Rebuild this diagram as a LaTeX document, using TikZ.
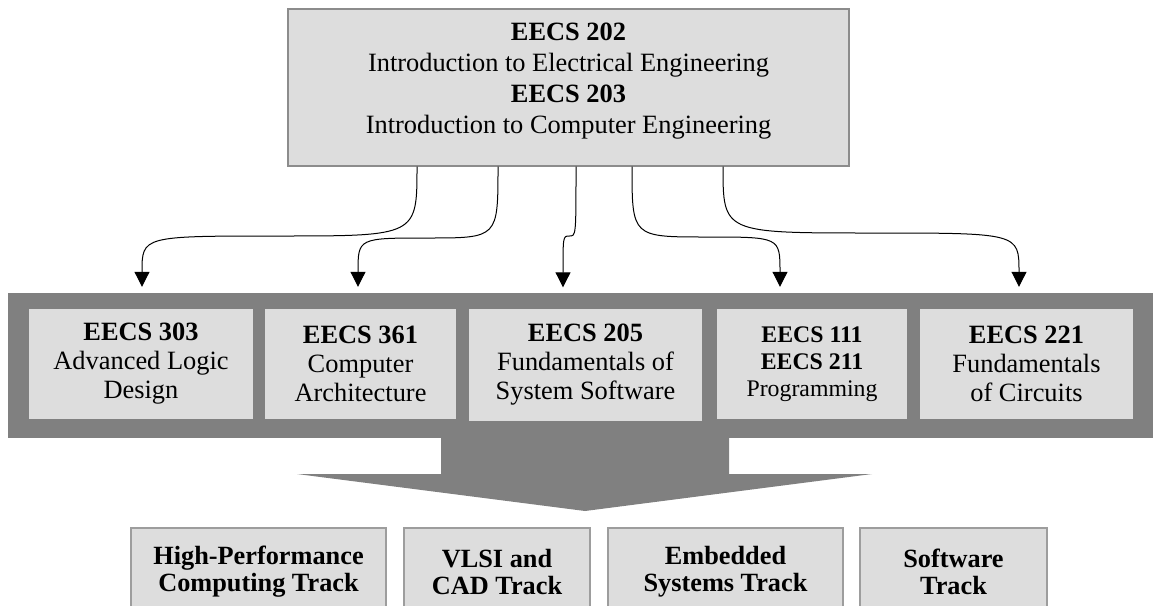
\documentclass[tikz,border=0pt]{standalone}
\usepackage{fontspec}
\setmainfont{Liberation Serif}
\usepackage{tikz}
\usetikzlibrary{arrows.meta, positioning, calc}
\definecolor{cajagris}{HTML}{DDDDDD}
\definecolor{bandagris}{HTML}{808080}
\definecolor{bordegris}{HTML}{8C8C8C}
\tikzset{
  topbox/.style={rectangle, draw=bordegris, fill=cajagris, line width=1.2pt,
                 align=center, inner sep=0pt, minimum width=561pt, minimum height=157pt,
                 font=\fontsize{26.4}{31}\selectfont},
  coursebox/.style={rectangle, fill=cajagris, align=center, inner sep=0pt,
                 minimum height=110pt, font=\fontsize{26.4}{29}\selectfont},
  trackbox/.style={rectangle, draw=bordegris!85, fill=cajagris, line width=1.2pt,
                 align=center, inner sep=0pt, minimum height=87pt,
                 font=\bfseries\fontsize{26.3}{27}\selectfont},
  link/.style={-{Triangle[length=15pt, width=15pt]}, line width=1pt}
}

\begin{document}
\begin{tikzpicture}[x=1pt, y=-1pt]
  \useasboundingbox (0,0) rectangle (1153,605);
  \clip (0,0) rectangle (1153,605);
  % intro courses
  \node[topbox, text height=92.5pt, text depth=0pt] (intro) at (568.5,87.5)
    {\textbf{EECS 202}\\ Introduction to Electrical Engineering\\
     \textbf{EECS 203}\\ Introduction to Computer Engineering};
  % core band with the big arrow
  \fill[bandagris] (8,293) rectangle (1153,438);
  \fill[bandagris] (441,437) -- (441,474) -- (297,474) -- (585,511)
    -- (872,474) -- (729,474) -- (729,437) -- cycle;
  \node[coursebox, minimum width=224pt] (c303) at (141,364)
    {\textbf{EECS 303}\\ Advanced Logic\\ Design};
  \node[coursebox, minimum width=191pt] (c361) at (360.5,364)
    {\textbf{EECS 361}\\ Computer\\ Architecture};
  \node[coursebox, minimum width=233pt, minimum height=112pt] (c205) at (585.5,365)
    {\textbf{EECS 205}\\ Fundamentals of\\ System Software};
  \node[coursebox, minimum width=190pt, font=\fontsize{23.8}{27}\selectfont] (c111) at (812,364)
    {\textbf{EECS 111}\\ \textbf{EECS 211}\\ Programming};
  \node[coursebox, minimum width=213pt] (c221) at (1026.5,364)
    {\textbf{EECS 221}\\ Fundamentals\\ of Circuits};
  % tracks
  \node[trackbox, minimum width=255pt] (hpc)  at (258.5,571.5) {High-Performance\\ Computing Track};
  \node[trackbox, minimum width=186pt] (vlsi) at (497,571.5)   {VLSI and\\ CAD Track};
  \node[trackbox, minimum width=235pt] (emb)  at (725.5,571.5) {Embedded\\ Systems Track};
  \node[trackbox, minimum width=187pt] (soft) at (953.5,571.5) {Software\\ Track};
  % connectors
  \coordinate (s1) at ([xshift=-151.5pt]intro.south);
  \coordinate (s2) at ([xshift=-70.5pt]intro.south);
  \coordinate (s3) at ([xshift=7.5pt]intro.south);
  \coordinate (s4) at ([xshift=63.5pt]intro.south);
  \coordinate (s5) at ([xshift=154.5pt]intro.south);
  \coordinate (t1) at ([xshift=1pt, yshift=22pt]c303.north);
  \coordinate (t2) at ([xshift=-2.5pt, yshift=22pt]c361.north);
  \coordinate (t3) at ([xshift=-22.5pt, yshift=21.5pt]c205.north);
  \coordinate (t4) at ([xshift=-32pt, yshift=22pt]c111.north);
  \coordinate (t5) at ([xshift=-7.5pt, yshift=22pt]c221.north);
  \coordinate (m1) at (279.5,236);
  \coordinate (m2) at (428,238);
  \coordinate (m3) at (569.5,236);
  \coordinate (m4) at (706,237);
  \coordinate (m5) at (871,233);
  \draw[link] (s1) .. controls (s1 |- m1) .. (m1) .. controls (t1 |- m1) .. (t1);
  \draw[link] (s2) .. controls (s2 |- m2) .. (m2) .. controls (t2 |- m2) .. (t2);
  \draw[link] (s3) .. controls (s3 |- m3) .. (m3) .. controls (t3 |- m3) .. (t3);
  \draw[link] (s4) .. controls (s4 |- m4) .. (m4) .. controls (t4 |- m4) .. (t4);
  \draw[link] (s5) .. controls (s5 |- m5) .. (m5) .. controls (t5 |- m5) .. (t5);
\end{tikzpicture}
\end{document}
